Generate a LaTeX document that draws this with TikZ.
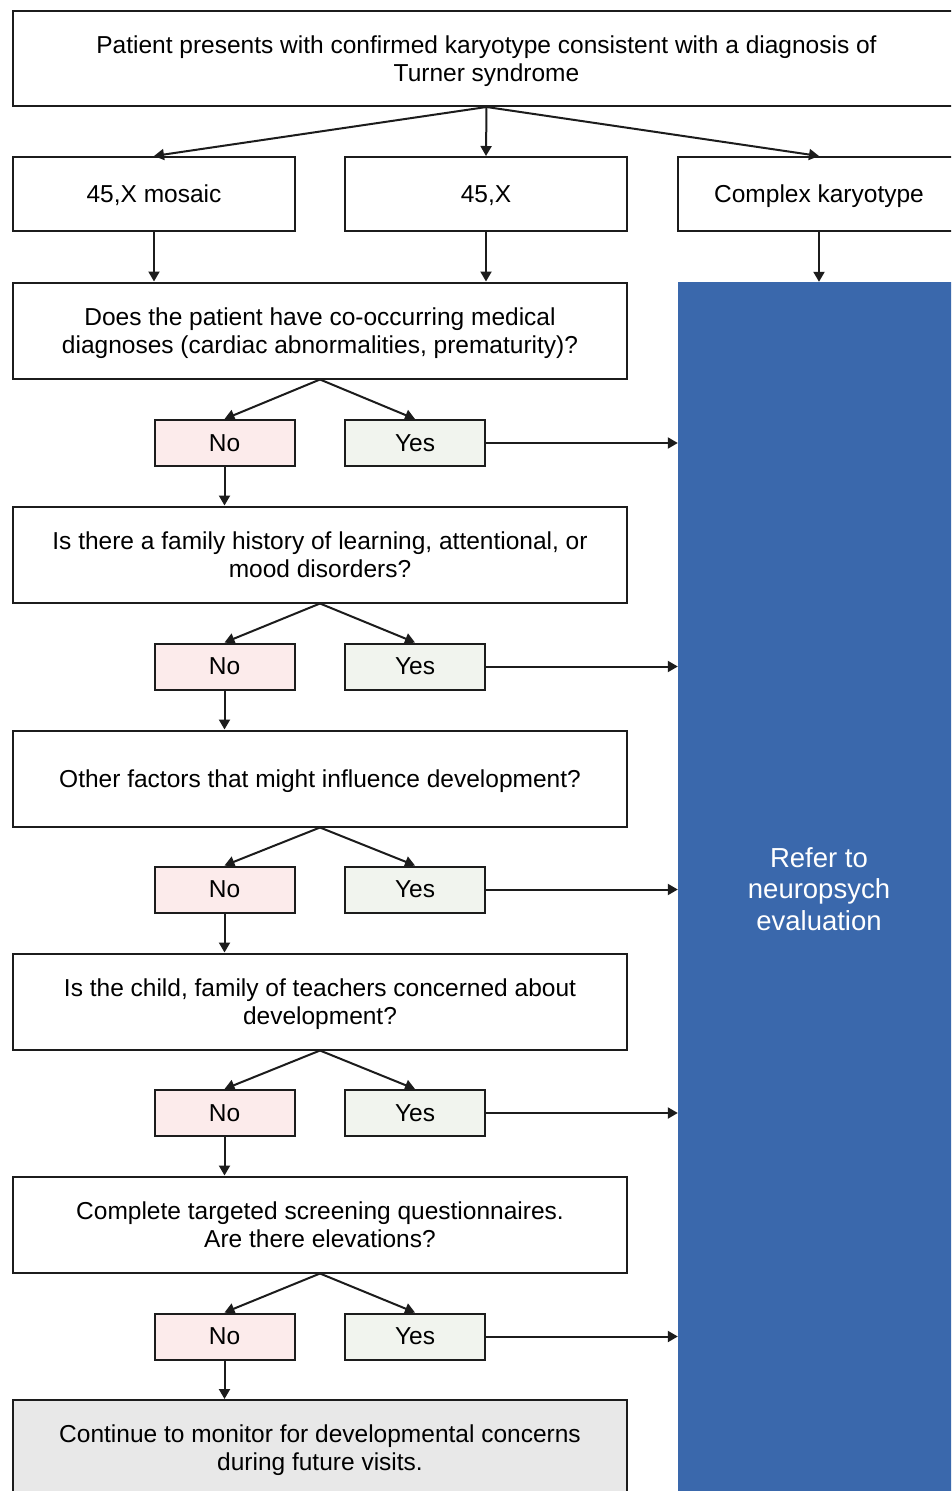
\documentclass[tikz,border=0pt]{standalone}
\usepackage{fontspec}
\setmainfont{Liberation Sans}
\usepackage{tikz}
\usetikzlibrary{arrows.meta, positioning, calc}

\definecolor{boxline}{RGB}{28, 28, 28}
\definecolor{nofill}{RGB}{252, 235, 235}
\definecolor{yesfill}{RGB}{241, 244, 238}
\definecolor{endfill}{RGB}{232, 232, 232}
\definecolor{referblue}{RGB}{58, 104, 172}

\newcommand{\boxfont}{\fontsize{24.5}{28}\selectfont}
\newcommand{\referfont}{\fontsize{27.5}{31.5}\selectfont}

\tikzset{
  plainbox/.style={draw=boxline, line width=2pt, align=center, inner sep=0pt, text depth=0pt, font=\boxfont},
  karybox/.style={plainbox, minimum width=282pt, minimum height=74pt},
  qbox/.style={plainbox, minimum width=614pt, minimum height=96pt},
  nobox/.style={plainbox, fill=nofill, minimum width=140pt, minimum height=46pt},
  yesbox/.style={plainbox, fill=yesfill, minimum width=140pt, minimum height=46pt},
  flow/.style={draw=boxline, line width=2pt, -{Triangle[length=10pt, width=11pt]}}
}

\begin{document}
\begin{tikzpicture}[x=1pt, y=-1pt]
  \clip (0,0) rectangle (951,1491);
  \fill[white] (0,0) rectangle (951,1491);

  % Diagnosis
  \node[plainbox, minimum width=947pt, minimum height=95pt] (diag) at (486.5, 58.5)
    {Patient presents with confirmed karyotype consistent with a diagnosis of\\Turner syndrome};

  % Karyotypes
  \node[karybox] (mosaic) at (154, 194) {45,X mosaic};
  \node[karybox] (monox) at (486, 194) {45,X};
  \node[karybox] (complex) at (819, 194) {Complex karyotype};

  % Referral
  \node[fill=referblue, text=white, minimum width=282pt, minimum height=1214pt, align=center, font=\referfont] (refer) at (819, 889)
    {Refer to\\neuropsych\\evaluation};

  % Question 1
  \node[qbox] (qa) at (320, 330.5) {Does the patient have co-occurring medical\\diagnoses (cardiac abnormalities, prematurity)?};
  \node[nobox] (noa) at (224.5, 443) {No};
  \node[yesbox] (yesa) at (415, 443) {Yes};

  % Question 2
  \node[qbox] (qb) at (320, 554.5) {Is there a family history of learning, attentional, or\\mood disorders?};
  \node[nobox] (nob) at (224.5, 666.5) {No};
  \node[yesbox] (yesb) at (415, 666.5) {Yes};

  % Question 3
  \node[qbox] (qc) at (320, 778.5) {Other factors that might influence development?};
  \node[nobox] (noc) at (224.5, 889.5) {No};
  \node[yesbox] (yesc) at (415, 889.5) {Yes};

  % Question 4
  \node[qbox] (qd) at (320, 1001.5) {Is the child, family of teachers concerned about\\development?};
  \node[nobox] (nod) at (224.5, 1113) {No};
  \node[yesbox] (yesd) at (415, 1113) {Yes};

  % Question 5
  \node[qbox] (qe) at (320, 1224.5) {Complete targeted screening questionnaires.\\Are there elevations?};
  \node[nobox] (noe) at (224.5, 1336.5) {No};
  \node[yesbox] (yese) at (415, 1336.5) {Yes};

  % Monitoring
  \node[qbox, fill=endfill] (monitor) at (320, 1448) {Continue to monitor for developmental concerns\\during future visits.};

  % Connectors
  \draw[flow] (diag.south) -- (mosaic.north);
  \draw[flow] (diag.south) -- (monox.north);
  \draw[flow] (diag.south) -- (complex.north);
  \draw[flow] (mosaic.south) -- (mosaic.south |- qa.north);
  \draw[flow] (monox.south) -- (monox.south |- qa.north);
  \draw[flow] (complex.south) -- (complex.south |- refer.north);

  \draw[flow] (qa.south) -- (noa.north);
  \draw[flow] (qa.south) -- (yesa.north);
  \draw[flow] (yesa.east) -- (yesa.east -| refer.west);
  \draw[flow] (noa.south) -- (noa.south |- qb.north);

  \draw[flow] (qb.south) -- (nob.north);
  \draw[flow] (qb.south) -- (yesb.north);
  \draw[flow] (yesb.east) -- (yesb.east -| refer.west);
  \draw[flow] (nob.south) -- (nob.south |- qc.north);

  \draw[flow] (qc.south) -- (noc.north);
  \draw[flow] (qc.south) -- (yesc.north);
  \draw[flow] (yesc.east) -- (yesc.east -| refer.west);
  \draw[flow] (noc.south) -- (noc.south |- qd.north);

  \draw[flow] (qd.south) -- (nod.north);
  \draw[flow] (qd.south) -- (yesd.north);
  \draw[flow] (yesd.east) -- (yesd.east -| refer.west);
  \draw[flow] (nod.south) -- (nod.south |- qe.north);

  \draw[flow] (qe.south) -- (noe.north);
  \draw[flow] (qe.south) -- (yese.north);
  \draw[flow] (yese.east) -- (yese.east -| refer.west);
  \draw[flow] (noe.south) -- (noe.south |- monitor.north);
\end{tikzpicture}
\end{document}
